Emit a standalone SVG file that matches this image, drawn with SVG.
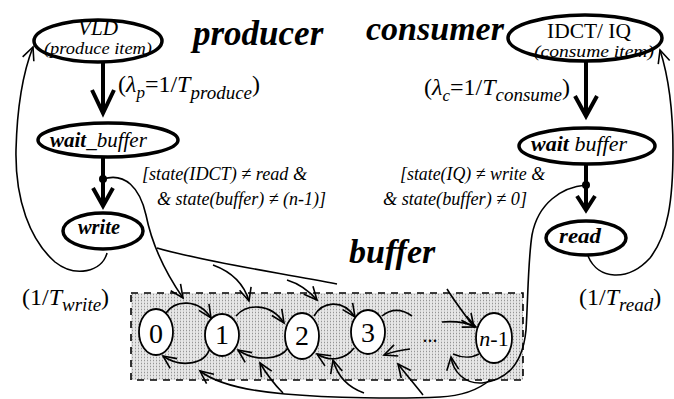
<svg xmlns="http://www.w3.org/2000/svg" width="674" height="399" viewBox="0 0 674 399">
<style>
text{font-family:"Liberation Serif","Times New Roman",serif;fill:#000}
.it{font-style:italic}
.bi{font-style:italic;font-weight:bold}
.up{font-style:normal}
.node{fill:#fff;stroke:#000;stroke-width:3.5}
.st{fill:#fff;stroke:#000;stroke-width:1.8}
.c{fill:none;stroke:#000;stroke-width:1.6}
.thick{fill:none;stroke:#000;stroke-width:4}
</style>
<defs>
<marker id="v" markerUnits="userSpaceOnUse" markerWidth="16" markerHeight="16" refX="14" refY="7" orient="auto" overflow="visible">
<path d="M1,1 L14,7 L1,13" fill="none" stroke="#000" stroke-width="1.6"/>
</marker>
<pattern id="dots" width="3" height="3" patternUnits="userSpaceOnUse">
<rect width="3" height="3" fill="#e6e6e6"/>
<rect width="1" height="1" fill="#959595"/>
<rect x="0" y="1.5" width="1" height="1" fill="#c0c0c0"/>
</pattern>
</defs>

<g id="buffer">
<rect x="131" y="293" width="392" height="87" fill="url(#dots)" stroke="#000" stroke-width="1.6" stroke-dasharray="7,6"/>
<text x="349" y="263" class="bi" font-size="34">buffer</text>
</g>

<g id="labels">
<text x="193" y="45" class="bi" font-size="35">producer</text>
<text x="366" y="40" class="bi" font-size="34">consumer</text>
<text x="118" y="92" font-size="24"><tspan>(</tspan><tspan class="it">λ</tspan><tspan class="it" font-size="17" dy="6">p</tspan><tspan dy="-6">=1/</tspan><tspan class="it">T</tspan><tspan class="it" font-size="19" dy="7">produce</tspan><tspan dy="-7">)</tspan></text>
<text x="424" y="95" font-size="24"><tspan>(</tspan><tspan class="it">λ</tspan><tspan class="it" font-size="17" dy="6">c</tspan><tspan dy="-6">=1/</tspan><tspan class="it">T</tspan><tspan class="it" font-size="19" dy="6">consume</tspan><tspan dy="-6">)</tspan></text>
<text x="22" y="305" font-size="24"><tspan>(1/</tspan><tspan class="it">T</tspan><tspan class="it" font-size="19" dy="6">write</tspan><tspan dy="-6">)</tspan></text>
<text x="579" y="305" font-size="24"><tspan>(1/</tspan><tspan class="it">T</tspan><tspan class="it" font-size="19" dy="6">read</tspan><tspan dy="-6">)</tspan></text>
<text x="142" y="180" class="it" font-size="19" textLength="165" lengthAdjust="spacingAndGlyphs">[state(IDCT) ≠ read &amp;</text>
<text x="157" y="205" class="it" font-size="19" textLength="169" lengthAdjust="spacingAndGlyphs">&amp; state(buffer) ≠ (n-1)]</text>
<text x="400" y="180" class="it" font-size="19" textLength="145" lengthAdjust="spacingAndGlyphs">[state(IQ) ≠ write &amp;</text>
<text x="383" y="205" class="it" font-size="19" textLength="144" lengthAdjust="spacingAndGlyphs">&amp; state(buffer) ≠ 0]</text>
</g>

<g id="connectors">
<line class="thick" x1="103" y1="62" x2="103" y2="112"/>
<path class="thick" d="M92,90 L103,113 L114,90"/>
<line class="thick" x1="103" y1="157" x2="103" y2="205"/>
<path class="thick" d="M93,188 L103,206 L113,188"/>
<circle cx="103" cy="179" r="4" fill="#000"/>
<line class="thick" x1="586" y1="61" x2="586" y2="116"/>
<path class="thick" d="M575,96 L586,116 L597,96"/>
<line class="thick" x1="586" y1="164" x2="586" y2="210"/>
<path class="thick" d="M577,196 L586,210 L595,196"/>
<circle cx="586" cy="185" r="4" fill="#000"/>

<path class="c" marker-end="url(#v)" d="M107,253 C102,272 75,278 55,262 C30,240 15,200 16,150 C17,110 22,75 33,47"/>
<path class="c" marker-end="url(#v)" d="M588,256 C598,280 628,282 650,258 C668,235 673,200 673,150 C673,110 668,75 660,50"/>

<path class="c" marker-end="url(#v)" d="M103,179 C125,172 140,188 146,215 C152,245 165,272 183,298"/>
<path class="c" d="M157,248 C205,262 275,272 337,284"/>
<path class="c" marker-end="url(#v)" d="M213,265 C232,272 244,284 249,301"/>
<path class="c" marker-end="url(#v)" d="M287,280 C300,284 310,292 317,300"/>
<path class="c" marker-end="url(#v)" d="M447,289 C455,302 465,315 474,327"/>

<path class="c" marker-end="url(#v)" d="M586,185 C562,187 538,203 532,235 C528,260 528,300 526,330 C523,362 508,380 482,383 C465,384 453,372 451,357"/>
<path class="c" marker-end="url(#v)" d="M490,380 C478,390 462,396 440,397 C400,399 330,398 285,394 C250,391 218,385 200,371"/>
<path class="c" marker-end="url(#v)" d="M283,393 C275,385 267,375 260,363"/>
<path class="c" marker-end="url(#v)" d="M364,393 C350,388 338,378 333,360"/>
<path class="c" marker-end="url(#v)" d="M423,395 C415,385 405,373 398,364"/>

<path class="c" marker-end="url(#v)" d="M166,313 C175,300 198,298 211,318"/>
<path class="c" marker-end="url(#v)" d="M236,316 C246,304 270,302 284,323"/>
<path class="c" marker-end="url(#v)" d="M314,316 C322,302 342,298 355,317"/>
<path class="c" d="M382,316 C392,308 402,309 412,316"/>
<path class="c" marker-end="url(#v)" d="M442,322 C452,321 465,322 476,327"/>
<path class="c" marker-end="url(#v)" d="M210,348 C205,365 180,368 163,356"/>
<path class="c" marker-end="url(#v)" d="M288,348 C280,360 255,362 238,350"/>
<path class="c" marker-end="url(#v)" d="M354,348 C345,360 330,362 317,354"/>
<path class="c" marker-end="url(#v)" d="M410,349 C400,350 392,352 384,355"/>
<path class="c" d="M479,354 C472,358 462,358 453,354"/>
</g>

<g id="VLD">
<ellipse class="node" cx="98" cy="41" rx="64" ry="21"/>
<text x="98" y="35" class="it" font-size="20" text-anchor="middle" textLength="40" lengthAdjust="spacingAndGlyphs">VLD</text>
<text x="98" y="54" class="it" font-size="16" text-anchor="middle" textLength="108" lengthAdjust="spacingAndGlyphs">(produce item)</text>
</g>
<g id="wait_buffer_producer">
<ellipse class="node" cx="108" cy="140" rx="70" ry="17"/>
<text x="50" y="147" class="it" font-size="21"><tspan font-weight="bold">wait</tspan>_buffer</text>
</g>
<g id="write">
<ellipse class="node" cx="103" cy="231" rx="40" ry="18"/>
<text x="78" y="234" class="bi" font-size="22" textLength="42" lengthAdjust="spacingAndGlyphs">write</text>
</g>
<g id="IDCT_IQ">
<ellipse class="node" cx="585" cy="38" rx="77" ry="23"/>
<text x="589" y="38" font-size="21" text-anchor="middle" textLength="84" lengthAdjust="spacingAndGlyphs">IDCT/ IQ</text>
<text x="594" y="57" class="it" font-size="16" text-anchor="middle" textLength="120" lengthAdjust="spacingAndGlyphs">(consume item)</text>
</g>
<g id="wait_buffer_consumer">
<ellipse class="node" cx="587" cy="146" rx="68" ry="18"/>
<text x="531" y="151" class="it" font-size="22"><tspan font-weight="bold">wait</tspan> buffer</text>
</g>
<g id="read">
<ellipse class="node" cx="586" cy="238" rx="40" ry="17"/>
<text x="559" y="243" class="bi" font-size="22" textLength="42" lengthAdjust="spacingAndGlyphs">read</text>
</g>

<g id="state0"><ellipse class="st" cx="156" cy="332" rx="17" ry="23"/><text x="156" y="343" font-size="28" text-anchor="middle">0</text></g>
<g id="state1"><ellipse class="st" cx="222" cy="335" rx="17" ry="21"/><text x="222" y="344" font-size="28" text-anchor="middle">1</text></g>
<g id="state2"><ellipse class="st" cx="302" cy="336" rx="17" ry="23"/><text x="302" y="345" font-size="28" text-anchor="middle">2</text></g>
<g id="state3"><ellipse class="st" cx="368" cy="332" rx="17" ry="22"/><text x="368" y="342" font-size="28" text-anchor="middle">3</text></g>
<g id="dots_label"><text x="430" y="342" font-size="20" text-anchor="middle">...</text></g>
<g id="state_n1"><ellipse class="st" cx="494" cy="338" rx="18" ry="25"/><text x="494" y="346" font-size="22" text-anchor="middle"><tspan class="it">n</tspan>-1</text></g>
</svg>
